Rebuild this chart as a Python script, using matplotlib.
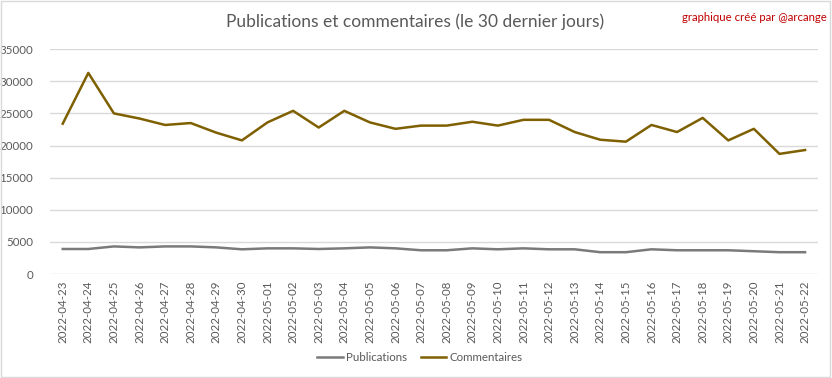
import pandas as pd
import matplotlib.pyplot as plt
from matplotlib.patches import Rectangle

dates = pd.date_range("2022-04-23", "2022-05-22").strftime("%Y-%m-%d").tolist()

publications = [3900, 3900, 4300, 4150, 4300, 4300, 4150, 3850, 4000, 4000,
                3900, 4000, 4150, 4000, 3700, 3700, 4000, 3850, 4000, 3850,
                3850, 3400, 3400, 3850, 3700, 3700, 3700, 3550, 3400, 3400]
commentaires = [23400, 31300, 25000, 24200, 23200, 23500, 22000, 20800, 23600, 25400,
                22800, 25400, 23600, 22600, 23100, 23100, 23700, 23100, 24000, 24000,
                22100, 20900, 20600, 23200, 22100, 24300, 20800, 22600, 18700, 19300]

text_color = '#595959'
plt.rcParams['font.family'] = ['Lato', 'DejaVu Sans']

fig = plt.figure(figsize=(8.32, 3.78), dpi=100)
ax = fig.add_axes([0.060, 0.275, 0.923, 0.595])

x = range(len(dates))
ax.plot(x, publications, color='#7a7a7a', lw=1.8, label='Publications')
ax.plot(x, commentaires, color='#7f6000', lw=1.8, label='Commentaires')

ax.set_xlim(-0.5, len(dates) - 0.5)
ax.set_ylim(0, 35000)
ax.set_yticks(range(0, 35001, 5000))
ax.set_xticks(list(x))
ax.set_xticklabels(dates, rotation=90, fontsize=8.3, color=text_color)
ax.tick_params(axis='y', labelsize=8.3, labelcolor=text_color, length=0, pad=12)
ax.tick_params(axis='x', length=0, pad=5)
ax.grid(axis='y', color='#d9d9d9', lw=1)
ax.set_axisbelow(True)
for s in ax.spines.values():
    s.set_visible(False)

fig.text(0.499, 0.942, 'Publications et commentaires (le 30 dernier jours)',
         ha='center', va='center', fontsize=12.5, color=text_color)
fig.text(0.994, 0.955, 'graphique créé par @arcange', ha='right', va='center',
         fontsize=8.2, color='#c00000')

fig.legend(loc='center', bbox_to_anchor=(0.505, 0.055), ncol=2, frameon=False,
           fontsize=8.3, labelcolor=text_color, handlelength=2.2,
           handletextpad=0.3, columnspacing=1.2)

fig.patches.append(Rectangle((0.001, 0.002), 0.997, 0.995, transform=fig.transFigure,
                             fill=False, edgecolor='#d9d9d9', lw=1))

fig.savefig('out.png', dpi=100, facecolor='white')
